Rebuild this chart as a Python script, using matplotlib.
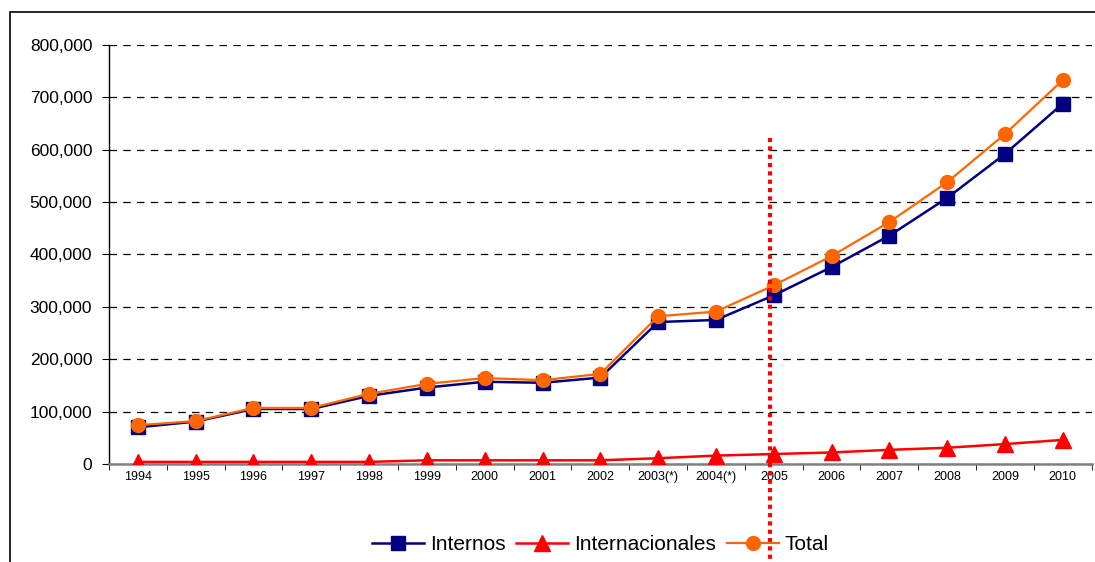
import matplotlib
matplotlib.use("Agg")
import matplotlib.pyplot as plt
from matplotlib.lines import Line2D
from matplotlib.ticker import FuncFormatter, FixedLocator

plt.rcParams['font.family'] = ['Liberation Sans', 'DejaVu Sans']

years = ["1994", "1995", "1996", "1997", "1998", "1999", "2000", "2001", "2002",
         "2003(*)", "2004(*)", "2005", "2006", "2007", "2008", "2009", "2010"]
internos = [70000, 81000, 105000, 105000, 130000, 146000, 157000, 155000, 165000,
            271000, 275000, 322000, 376000, 436000, 508000, 592000, 688000]
internacionales = [4000, 4000, 4000, 4000, 4000, 7000, 7000, 7000, 7000,
                   11000, 16000, 19000, 22000, 27000, 31000, 38000, 46000]
total = [74000, 82000, 107000, 107000, 134000, 153000, 164000, 160000, 172000,
         282000, 291000, 341000, 397000, 462000, 538000, 630000, 733000]
marker_pos = 10.93  # position of the dotted separator (near 2005)

fig = plt.figure(figsize=(10.95, 5.62), dpi=100)
ax = fig.add_axes([0.0995, 0.1744, 0.8975, 0.7456])

x = list(range(len(years)))
ax.plot(x, internos, color='#000080', marker='s', markersize=10, lw=1.8,
        label='Internos', zorder=3)
ax.plot(x, internacionales, color='#FF0000', marker='^', markersize=11, lw=1.8,
        label='Internacionales', zorder=3)
ax.plot(x, total, color='#FF6600', marker='o', markersize=10, lw=1.6,
        label='Total', zorder=4)

ax.set_xlim(-0.5, len(years) - 0.5)
ax.set_ylim(0, 800000)
ax.yaxis.set_major_locator(FixedLocator(range(0, 800001, 100000)))
ax.yaxis.set_major_formatter(FuncFormatter(lambda v, p: f"{int(v):,}"))
ax.grid(axis='y', color='black', linestyle=(0, (6, 5)), lw=0.9)
ax.set_axisbelow(True)

ax.set_xticks(x)
ax.set_xticklabels(years, fontsize=9)
ax.set_xticks([i - 0.5 for i in range(len(years) + 1)], minor=True)
ax.tick_params(axis='x', which='major', length=0, pad=5)
ax.tick_params(axis='x', which='minor', length=4, direction='out', color='black')
ax.tick_params(axis='y', labelsize=12.5, length=5, direction='out', pad=7)

for s in ['top', 'right']:
    ax.spines[s].set_visible(False)
ax.spines['left'].set_color('black')
ax.spines['left'].set_linewidth(1.0)
ax.spines['bottom'].set_color('#808080')
ax.spines['bottom'].set_linewidth(1.8)

ax.plot([marker_pos, marker_pos], [622000, -190000], color='#FF0000',
        linestyle=(0, (1, 1)), lw=3, clip_on=False, zorder=5)

leg = ax.legend(loc='center', bbox_to_anchor=(0.5, -0.193), ncol=3, frameon=False,
                fontsize=15, handlelength=2.5, columnspacing=0.5, handletextpad=0.3)

# outer frame (left and top edges only)
fig.add_artist(Line2D([0.0095, 0.0095], [0, 0.979], color='black', lw=1.2,
                      transform=fig.transFigure))
fig.add_artist(Line2D([0.0095, 1.0], [0.979, 0.979], color='black', lw=1.2,
                      transform=fig.transFigure, solid_capstyle='butt'))

fig.savefig("out.png", dpi=100)
